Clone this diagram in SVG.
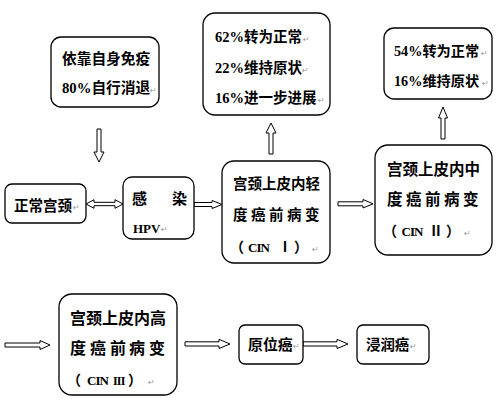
<svg xmlns="http://www.w3.org/2000/svg" width="501" height="414" viewBox="0 0 501 414">
<style>
.box{fill:#fff;stroke:#000;stroke-width:1.3}
.t{font-family:"Liberation Serif","Noto Sans CJK SC",serif;font-weight:bold;fill:#000}
.cin{font-size:13px;letter-spacing:-1px}
.pm{font-family:"DejaVu Sans",sans-serif;font-size:8px;fill:#999}
.arr{fill:#fff;stroke:#000;stroke-width:1}
</style>
<rect width="501" height="414" fill="#fff"/>
<g id="connectors">
<path class="arr" d="M97,129 H101 V152 H104 L99,162 L94,152 H97 Z"/>
<path class="arr" d="M86,204 L94,199.7 V202.3 H115 V199.7 L123,204 L115,208.3 V205.7 H94 V208.3 Z"/>
<path class="arr" d="M194,202.5 H212 V200.5 L222,204.5 L212,208.5 V206.5 H194 Z"/>
<path class="arr" d="M269,154 V133 H266 L271,123 L276,133 H273 V154 Z"/>
<path class="arr" d="M338,201.8 H363 V199.5 L373,203.8 L363,208 V205.8 H338 Z"/>
<path class="arr" d="M441,139 V118 H438.5 L443,107 L447.5,118 H445 V139 Z"/>
<path class="arr" d="M5,343 H40 V340.5 L50,345 L40,349.5 V347 H5 Z"/>
<path class="arr" d="M185,341.8 H219 V339.3 L230,344 L219,348.5 V346 H185 Z"/>
<path class="arr" d="M303,341.8 H337 V339.3 L348,344 L337,348.5 V346 H303 Z"/>
</g>
<g id="n-immune">
<rect class="box" x="51" y="37" width="108" height="70" rx="10"/>
<text class="t" x="62" y="63.5" font-size="14.7">依靠自身免疫</text>
<text class="t" x="62" y="92.5" font-size="14.7">80%自行消退</text>
<text class="pm" x="150" y="93">↵</text>
</g>
<g id="n-cin1-outcome">
<rect class="box" x="203" y="13" width="127" height="102" rx="12"/>
<text class="t" x="215" y="41.5" font-size="14.5">62%转为正常</text>
<text class="pm" x="303" y="42">↵</text>
<text class="t" x="215" y="72.5" font-size="14.5">22%维持原状</text>
<text class="pm" x="302" y="73">↵</text>
<text class="t" x="215" y="102.5" font-size="14.5">16%进一步进展</text>
<text class="pm" x="318" y="103">↵</text>
</g>
<g id="n-cin2-outcome">
<rect class="box" x="384" y="28" width="108" height="71" rx="10"/>
<text class="t" x="394" y="55.5" font-size="14.2">54%转为正常</text>
<text class="pm" x="481" y="56">↵</text>
<text class="t" x="394" y="85.5" font-size="14.2">16%维持原状</text>
<text class="pm" x="482" y="86">↵</text>
</g>
<g id="n-normal">
<rect class="box" x="5" y="184" width="81" height="39" rx="7"/>
<text class="t" x="14" y="210.5" font-size="14.5">正常宫颈</text>
<text class="pm" x="73" y="210">↵</text>
</g>
<g id="n-hpv">
<rect class="box" x="123" y="177" width="71" height="62" rx="9"/>
<text class="t" x="132" y="203.5" font-size="15">感</text>
<text class="t" x="172" y="203.5" font-size="15">染</text>
<text class="t" x="133" y="233" font-size="13">HPV</text>
<text class="pm" x="161" y="232">↵</text>
</g>
<g id="n-cin1">
<rect class="box" x="222" y="161" width="108" height="102" rx="12"/>
<text class="t" x="233" y="188.5" font-size="14.5">宫颈上皮内轻</text>
<text class="t" y="220" font-size="14.5"><tspan x="233">度</tspan><tspan x="251">癌</tspan><tspan x="269">前</tspan><tspan x="287">病</tspan><tspan x="305">变</tspan></text>
<text class="t" y="251.5" font-size="14"><tspan x="230">（</tspan><tspan class="cin" x="248">CIN</tspan><tspan x="278">Ⅰ</tspan><tspan x="294">）</tspan></text>
<text class="pm" x="312" y="252">↵</text>
</g>
<g id="n-cin2">
<rect class="box" x="375" y="145" width="117" height="110" rx="13"/>
<text class="t" x="387" y="175" font-size="15.5">宫颈上皮内中</text>
<text class="t" y="204.5" font-size="15.5"><tspan x="387">度</tspan><tspan x="406">癌</tspan><tspan x="425">前</tspan><tspan x="444">病</tspan><tspan x="463">变</tspan></text>
<text class="t" y="235.5" font-size="14"><tspan x="383">（</tspan><tspan class="cin" x="401.5">CIN</tspan><tspan x="429">Ⅱ</tspan><tspan x="446">）</tspan></text>
<text class="pm" x="464" y="236">↵</text>
</g>
<g id="n-cin3">
<rect class="box" x="59" y="294" width="118" height="101" rx="13"/>
<text class="t" x="70" y="323.5" font-size="16">宫颈上皮内高</text>
<text class="t" y="353.5" font-size="16"><tspan x="70">度</tspan><tspan x="90">癌</tspan><tspan x="110">前</tspan><tspan x="129">病</tspan><tspan x="149">变</tspan></text>
<text class="t" y="384.5" font-size="14"><tspan x="67">（</tspan><tspan class="cin" x="87">CIN</tspan><tspan x="113" font-size="12" letter-spacing="-0.8">III</tspan><tspan x="128">）</tspan></text>
<text class="pm" x="148" y="385">↵</text>
</g>
<g id="n-insitu">
<rect class="box" x="239" y="325" width="64" height="39" rx="6"/>
<text class="t" x="248" y="349.5" font-size="14.9">原位癌</text>
<text class="pm" x="293" y="349">↵</text>
</g>
<g id="n-invasive">
<rect class="box" x="357" y="325" width="72" height="39" rx="6"/>
<text class="t" x="366" y="349.5" font-size="14.4">浸润癌</text>
<text class="pm" x="410" y="349">↵</text>
</g>
</svg>
